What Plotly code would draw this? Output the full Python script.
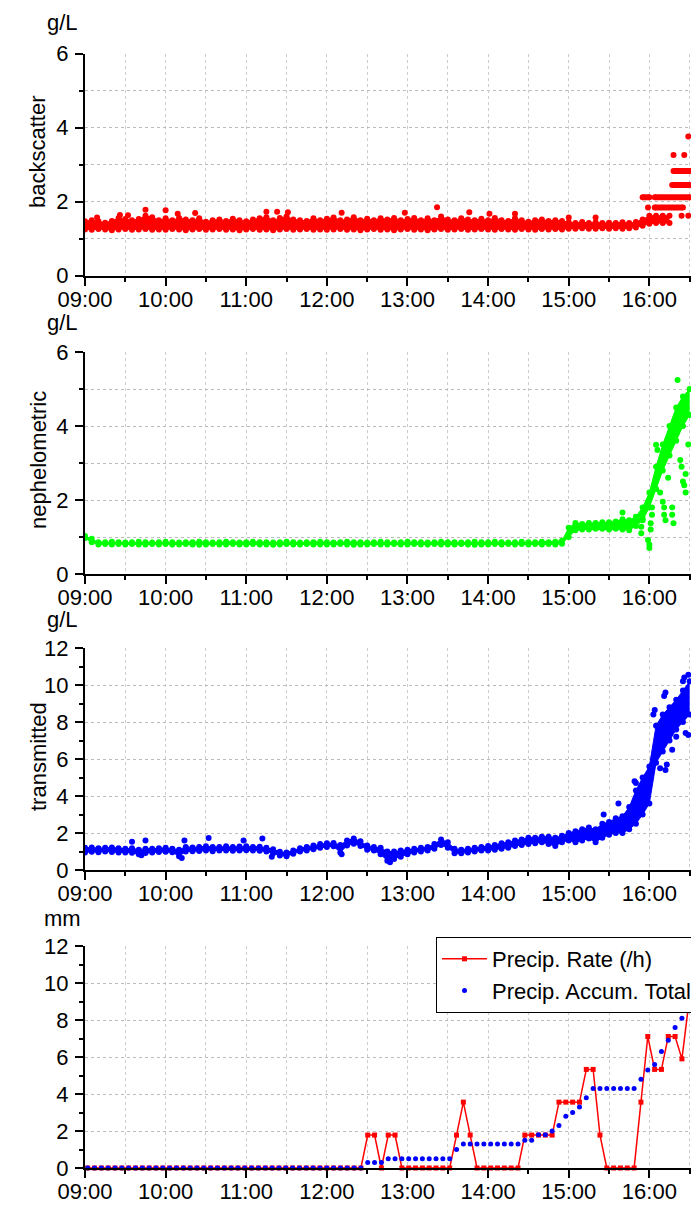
import plotly.graph_objects as go
import pandas as pd

DAY = "2024-01-01 "
FONT = "Liberation Sans, Arial, sans-serif"

# ---------- common 5-minute time base for the dense sensor bands ----------
band_times = [f"{9 + m // 60:02d}:{m % 60:02d}" for m in range(0, 451, 5)]  # 09:00 .. 16:30

# ---------- backscatter (g/L): band lower / upper values, 09:00 .. 16:15 ----------
bs_lo = [1.25, 1.24, 1.26, 1.25, 1.23, 1.25, 1.26, 1.24, 1.25, 1.26, 1.24, 1.25,
         1.24, 1.26, 1.25, 1.23, 1.25, 1.26, 1.24, 1.25, 1.26, 1.24, 1.25, 1.23,
         1.25, 1.26, 1.24, 1.25, 1.23, 1.25, 1.26, 1.24, 1.25, 1.26, 1.24, 1.25,
         1.24, 1.25, 1.26, 1.24, 1.25, 1.23, 1.25, 1.26, 1.24, 1.25, 1.23, 1.25,
         1.26, 1.24, 1.25, 1.23, 1.25, 1.26, 1.24, 1.25, 1.26, 1.24, 1.25, 1.26,
         1.25, 1.24, 1.26, 1.25, 1.24, 1.26, 1.25, 1.24, 1.26, 1.25, 1.26, 1.25,
         1.27, 1.27, 1.28, 1.27, 1.27, 1.28, 1.27, 1.28, 1.27, 1.28, 1.30, 1.35,
         1.40, 1.42, 1.42, 1.42]
bs_hi = [1.47, 1.50, 1.47, 1.43, 1.48, 1.56, 1.53, 1.50, 1.53, 1.62, 1.58, 1.50,
         1.55, 1.50, 1.56, 1.52, 1.50, 1.55, 1.46, 1.50, 1.52, 1.48, 1.54, 1.50,
         1.47, 1.52, 1.55, 1.58, 1.50, 1.56, 1.60, 1.52, 1.50, 1.48, 1.55, 1.50,
         1.54, 1.57, 1.50, 1.52, 1.58, 1.50, 1.54, 1.50, 1.55, 1.52, 1.56, 1.50,
         1.53, 1.56, 1.50, 1.55, 1.50, 1.60, 1.52, 1.50, 1.55, 1.52, 1.50, 1.54,
         1.50, 1.56, 1.50, 1.48, 1.55, 1.50, 1.46, 1.50, 1.52, 1.48, 1.50, 1.48,
         1.44, 1.42, 1.45, 1.42, 1.44, 1.42, 1.43, 1.42, 1.44, 1.42, 1.45, 1.52,
         1.62, 1.62, 1.62, 1.62]
# quantised rows after 16:00 (level, start, end)
bs_row_level = [1.84, 2.12, 2.12, 2.45, 2.83]
bs_row_start = ["16:04", "15:55", "16:04", "16:17", "16:18"]
bs_row_end = ["16:25", "16:00", "16:30", "16:30", "16:30"]
bs_out_t = ["09:09", "09:26", "09:32", "09:45", "10:00", "10:09", "10:22", "11:15", "11:23",
            "11:31", "12:11", "12:58", "13:22", "13:46", "14:01", "14:20", "15:00", "15:20",
            "15:59", "16:24", "16:29", "16:18", "16:26", "16:29"]
bs_out_v = [1.57, 1.64, 1.63, 1.78, 1.77, 1.67, 1.69, 1.73, 1.73,
            1.71, 1.70, 1.70, 1.85, 1.71, 1.67, 1.67, 1.57, 1.57,
            1.84, 1.62, 1.62, 3.26, 3.26, 3.76]

# ---------- nephelometric (g/L), 09:00 .. 16:30 ----------
ne_lo = [0.97, 0.86, 0.80, 0.81, 0.80, 0.81, 0.80, 0.81, 0.80, 0.80, 0.81, 0.80,
         0.81, 0.80, 0.80, 0.81, 0.80, 0.79, 0.80, 0.81, 0.80, 0.80, 0.81, 0.80,
         0.80, 0.81, 0.80, 0.80, 0.79, 0.80, 0.81, 0.80, 0.80, 0.81, 0.80, 0.80,
         0.80, 0.80, 0.81, 0.80, 0.79, 0.80, 0.80, 0.81, 0.80, 0.80, 0.81, 0.80,
         0.80, 0.81, 0.80, 0.80, 0.81, 0.80, 0.80, 0.80, 0.81, 0.80, 0.79, 0.80,
         0.80, 0.81, 0.80, 0.81, 0.80, 0.81, 0.80, 0.81, 0.80, 0.81, 0.80, 0.82,
         1.00, 1.18, 1.20, 1.20, 1.22, 1.22, 1.20, 1.22, 1.20, 1.18, 1.30, 1.45,
         1.80, 2.30, 2.80, 3.20, 3.60, 4.00, 4.30]
ne_hi = [1.03, 0.95, 0.86, 0.86, 0.87, 0.86, 0.85, 0.86, 0.87, 0.86, 0.85, 0.86,
         0.87, 0.86, 0.85, 0.86, 0.86, 0.87, 0.86, 0.85, 0.86, 0.87, 0.86, 0.85,
         0.86, 0.87, 0.86, 0.86, 0.85, 0.86, 0.87, 0.86, 0.85, 0.86, 0.86, 0.87,
         0.86, 0.85, 0.86, 0.87, 0.86, 0.86, 0.85, 0.86, 0.87, 0.86, 0.85, 0.86,
         0.87, 0.86, 0.86, 0.85, 0.86, 0.87, 0.86, 0.86, 0.85, 0.86, 0.87, 0.86,
         0.86, 0.87, 0.86, 0.85, 0.86, 0.87, 0.86, 0.86, 0.87, 0.86, 0.87, 0.90,
         1.25, 1.38, 1.35, 1.38, 1.38, 1.40, 1.40, 1.42, 1.48, 1.45, 1.55, 1.80,
         2.20, 2.90, 3.50, 4.00, 4.50, 4.80, 5.00]
ne_out_t = ["15:40", "15:54", "15:54", "15:55", "15:59", "16:00", "16:00", "16:01", "16:01",
            "16:02", "16:02", "16:05", "16:06", "16:08", "16:10", "16:11", "16:11", "16:12",
            "16:14", "16:16", "16:17", "16:17", "16:18", "16:21", "16:23", "16:24", "16:25",
            "16:26", "16:27", "16:27", "16:29"]
ne_out_v = [1.66, 1.28, 1.10, 1.50, 0.92, 0.70, 0.80, 1.20, 1.37,
            1.80, 1.60, 3.49, 3.35, 2.20, 1.95, 1.80, 1.60, 1.45,
            2.60, 3.98, 1.80, 1.60, 1.37, 5.24, 3.08, 2.90, 2.50,
            2.40, 2.20, 2.70, 3.50]

# ---------- transmitted (g/L), 09:00 .. 16:30 ----------
tr_lo = [0.95, 0.98, 0.96, 1.00, 0.97, 0.95, 0.95, 0.93, 0.85, 0.92, 0.95, 0.97,
         0.98, 0.96, 0.75, 1.00, 1.02, 1.03, 1.05, 1.02, 1.05, 1.06, 1.04, 1.05,
         1.07, 1.05, 1.04, 1.00, 0.90, 0.78, 0.75, 0.88, 1.00, 1.05, 1.12, 1.20,
         1.25, 1.28, 0.95, 1.32, 1.42, 1.30, 1.10, 1.05, 0.85, 0.50, 0.60, 0.72,
         0.85, 0.95, 1.00, 1.05, 1.15, 1.35, 1.20, 0.90, 0.90, 0.95, 1.00, 1.05,
         1.05, 1.10, 1.15, 1.20, 1.30, 1.35, 1.40, 1.45, 1.50, 1.40, 1.30, 1.50,
         1.60, 1.50, 1.60, 1.70, 1.50, 1.75, 1.90, 2.00, 2.00, 2.20, 2.50, 3.00,
         3.60, 5.80, 6.40, 7.00, 7.60, 8.00, 8.40]
tr_hi = [1.20, 1.22, 1.18, 1.20, 1.22, 1.18, 1.15, 1.18, 1.10, 1.15, 1.15, 1.17,
         1.20, 1.15, 1.10, 1.25, 1.22, 1.25, 1.28, 1.25, 1.25, 1.28, 1.25, 1.27,
         1.28, 1.25, 1.26, 1.20, 1.12, 0.98, 0.95, 1.05, 1.18, 1.25, 1.32, 1.40,
         1.45, 1.46, 1.35, 1.60, 1.70, 1.55, 1.32, 1.25, 1.20, 1.00, 1.00, 1.05,
         1.10, 1.15, 1.20, 1.25, 1.40, 1.65, 1.50, 1.15, 1.10, 1.15, 1.20, 1.25,
         1.30, 1.35, 1.45, 1.50, 1.60, 1.65, 1.75, 1.75, 1.80, 1.80, 1.75, 1.85,
         2.00, 2.10, 2.20, 2.30, 2.20, 2.50, 2.60, 2.80, 2.90, 3.40, 4.30, 5.00,
         5.60, 7.80, 8.40, 8.80, 9.20, 9.70, 10.20]
tr_out_t = ["09:35", "09:42", "09:45", "10:12", "10:14", "10:32", "10:58", "11:12", "11:19",
            "12:11", "12:47", "15:26", "15:37", "15:49", "15:50", "16:03", "16:04", "16:08",
            "16:11", "16:12", "16:12", "16:13", "16:17", "16:20", "16:25", "16:26", "16:27",
            "16:29", "16:29"]
tr_out_v = [1.53, 0.80, 1.60, 0.65, 1.60, 1.73, 1.60, 1.70, 0.72,
            0.85, 0.42, 3.00, 3.60, 4.80, 4.70, 8.40, 8.65, 5.50,
            9.40, 9.60, 5.40, 5.70, 6.50, 7.20, 10.20, 10.40, 7.40,
            10.55, 7.30]

# ---------- precipitation (mm), logged about every 5 minutes from 09:02 ----------
precip_times = pd.date_range(DAY + "09:02", periods=89, freq="305s")
precip_rate = [0, 0, 0, 0, 0, 0, 0, 0, 0, 0, 0, 0, 0, 0, 0, 0, 0, 0, 0, 0,
               0, 0, 0, 0, 0, 0, 0, 0, 0, 0, 0, 0, 0, 0, 0, 0, 0, 0, 0, 0, 0,
               1.78, 1.78, 0, 1.78, 1.78, 0, 0, 0, 0, 0, 0, 0, 0,
               1.78, 3.56, 1.78, 0, 0, 0, 0, 0, 0, 0,
               1.78, 1.78, 1.78, 1.78, 1.78, 3.56, 3.56, 3.56, 3.56,
               5.33, 5.33, 1.78, 0, 0, 0, 0, 0,
               3.56, 7.11, 5.33, 5.33, 7.11, 7.11, 5.90, 8.89]
precip_total = [0, 0, 0, 0, 0, 0, 0, 0, 0, 0, 0, 0, 0, 0, 0, 0, 0, 0, 0, 0,
                0, 0, 0, 0, 0, 0, 0, 0, 0, 0, 0, 0, 0, 0, 0, 0, 0, 0, 0, 0, 0,
                0.3, 0.3, 0.3, 0.5, 0.5, 0.5, 0.5, 0.5, 0.5, 0.5, 0.5, 0.5, 0.5,
                1.0, 1.3, 1.3, 1.3, 1.3, 1.3, 1.3, 1.3, 1.3, 1.3,
                1.5, 1.5, 1.8, 1.8, 2.0, 2.3, 2.8, 3.0, 3.3, 3.8,
                4.3, 4.3, 4.3, 4.3, 4.3, 4.3, 4.3,
                4.8, 5.3, 5.6, 6.3, 6.9, 7.6, 8.1, 8.9]

RED, GREEN, BLUE = "#ff0000", "#00ff00", "#0000ff"


def ts(lst):
    return [DAY + s for s in lst]


fig = go.Figure()


def add_band(times, lo, hi, color, xa, ya):
    t = ts(times[:len(lo)])
    common = dict(x=t, mode="lines+markers", line=dict(color=color, width=1),
                  marker=dict(size=6, color=color), xaxis=xa, yaxis=ya,
                  showlegend=False, hoverinfo="skip")
    fig.add_trace(go.Scatter(y=lo, **common))
    fig.add_trace(go.Scatter(y=hi, fill="tonexty", fillcolor=color, **common))


def add_points(times, vals, color, xa, ya):
    fig.add_trace(go.Scatter(x=ts(times), y=vals, mode="markers",
                             marker=dict(size=6, color=color), xaxis=xa, yaxis=ya,
                             showlegend=False, hoverinfo="skip"))


# panel 1
add_band(band_times, bs_lo, bs_hi, RED, "x", "y")
rx, ry = [], []
for lv, s, e in zip(bs_row_level, bs_row_start, bs_row_end):
    rx += [DAY + s, DAY + e, None]
    ry += [lv, lv, None]
fig.add_trace(go.Scatter(x=rx, y=ry, mode="lines+markers", line=dict(color=RED, width=6),
                         marker=dict(size=6, color=RED), xaxis="x", yaxis="y",
                         showlegend=False, hoverinfo="skip"))
add_points(bs_out_t, bs_out_v, RED, "x", "y")

# panel 2
add_band(band_times, ne_lo, ne_hi, GREEN, "x2", "y2")
add_points(ne_out_t, ne_out_v, GREEN, "x2", "y2")

# panel 3
add_band(band_times, tr_lo, tr_hi, BLUE, "x3", "y3")
add_points(tr_out_t, tr_out_v, BLUE, "x3", "y3")

# panel 4
fig.add_trace(go.Scatter(x=precip_times, y=precip_rate, mode="lines+markers",
                         name="Precip. Rate (/h)", line=dict(color=RED, width=1.5),
                         marker=dict(symbol="square", size=5, color=RED),
                         xaxis="x4", yaxis="y4", cliponaxis=False))
fig.add_trace(go.Scatter(x=precip_times, y=precip_total, mode="markers",
                         name="Precip. Accum. Total",
                         marker=dict(symbol="circle", size=5, color=BLUE),
                         xaxis="x4", yaxis="y4", cliponaxis=False))

# ---------- layout ----------
# the page body has an 8 px margin, so the figure is 8 px smaller each way
W, H = 691, 1197
L, R, T, B = 77, 8, 45, 37
PH = H - T - B  # 1115
PW = W - L - R  # 606


def py(px):  # page pixel y -> paper coordinate
    return (1168 - px) / PH


def pxx(px):  # page pixel x -> paper coordinate
    return (px - 85) / PW


GRID = "#cccccc"
xcommon = dict(type="date", range=[DAY + "09:00", DAY + "16:31"], tickformat="%H:%M",
               tick0=DAY + "09:00", dtick=3600000, ticks="outside", ticklen=8, tickwidth=1.5,
               tickcolor="black", showline=True, linecolor="black", linewidth=2,
               showgrid=True, gridcolor=GRID, griddash="dot", gridwidth=1, zeroline=False,
               automargin=False, ticklabelstandoff=-5,
               tickfont=dict(size=22, color="black", family=FONT),
               minor=dict(dtick=1800000, ticks="outside", ticklen=4, tickwidth=1.5,
                          tickcolor="black", showgrid=True, gridcolor=GRID, griddash="dot"))


def ycfg(top, domain, minor_grid):
    return dict(range=[0, top], domain=domain, tick0=0, dtick=2, ticks="outside", ticklen=8,
                tickwidth=1.5, tickcolor="black", showline=True, linecolor="black",
                linewidth=2, showgrid=True, gridcolor="#bbbbbb", griddash="dot",
                zeroline=False, automargin=False, ticklabelstandoff=2,
                tickfont=dict(size=22, color="black", family=FONT),
                minor=dict(dtick=1, ticks="outside", ticklen=4, tickwidth=1.5,
                           tickcolor="black", showgrid=minor_grid, gridcolor="#bbbbbb",
                           griddash="dot"))


doms = [(275.7, 53.5), (574, 352), (870, 648), (1168, 946)]
layout = dict(width=W, height=H,
              margin=dict(l=L, r=R, t=T, b=B, autoexpand=False),
              paper_bgcolor="white", plot_bgcolor="white",
              font=dict(family=FONT, size=22, color="black"),
              legend=dict(x=pxx(697), xanchor="right", y=py(937), yanchor="top",
                          bordercolor="black", borderwidth=1, bgcolor="white",
                          font=dict(size=22, family=FONT, color="black"),
                          itemwidth=45, traceorder="normal", tracegroupgap=0))
tops = [6, 6, 12, 12]
for i, ((b, t), top) in enumerate(zip(doms, tops), start=1):
    sfx = "" if i == 1 else str(i)
    layout["xaxis" + sfx] = dict(xcommon, anchor="y" + sfx, domain=[0, 1])
    layout["yaxis" + sfx] = ycfg(top, [py(b), py(t)], i <= 2)

ann = []
for txt, ypx in [("g/L", 22), ("g/L", 322), ("g/L", 619), ("mm", 918)]:
    ann.append(dict(text=txt, x=pxx(62), y=py(ypx), xref="paper", yref="paper",
                    xanchor="center", yanchor="middle", showarrow=False,
                    font=dict(size=22, family=FONT, color="black")))
for txt, ypx in [("backscatter", 152), ("nephelometric", 460), ("transmitted", 757)]:
    ann.append(dict(text=txt, x=pxx(38), y=py(ypx), xref="paper", yref="paper",
                    xanchor="center", yanchor="middle", showarrow=False, textangle=-90,
                    font=dict(size=22, family=FONT, color="black")))
layout["annotations"] = ann
fig.update_layout(**layout)

fig.write_html("out.html")
